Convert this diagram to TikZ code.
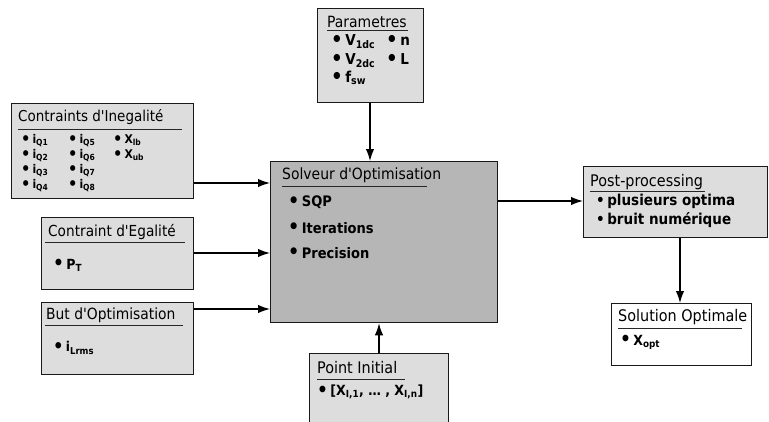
\documentclass[tikz,border=0pt]{standalone}
\usepackage{fontspec}
\usepackage{graphicx}
\setmainfont{DejaVu Sans Condensed}
\usetikzlibrary{arrows.meta}
\definecolor{boxgray}{RGB}{221,221,221}
\definecolor{solvgray}{RGB}{182,182,182}
\newcommand\sbs[1]{\textsubscript{#1}}
\newcommand\sbl[1]{\raisebox{-0.17em}{\fontsize{0.7em}{0.7em}\selectfont #1}}
\newcommand\fsz[1]{\fontsize{#1}{#1}\selectfont}
\newcommand\apo{\textquotesingle}
\newcommand\bul{\raisebox{-0.12ex}{\scalebox{1.35}{\textbullet}}}
\tikzset{
  box/.style={draw=black!90, line width=1.3pt, fill=boxgray, inner sep=0pt, anchor=north west},
  ttl/.style={anchor=west, inner sep=0pt},
  itm/.style={anchor=west, inner sep=0pt, font=\bfseries},
  tight/.style={text height=8pt, text depth=3pt},
  uline/.style={line width=0.9pt, draw=black!85},
  arr/.style={line width=1.3pt, -{Latex[length=12pt,width=8.5pt]}}
}
\begin{document}
\begin{tikzpicture}[x=1pt,y=-1pt]
\useasboundingbox[fill=white] (0,0) rectangle (769,421);
% boxes
\node[box, minimum width=106pt, minimum height=94pt] (par) at (317,8) {};
\node[box, minimum width=182pt, minimum height=95pt] (cont) at (11,103) {};
\node[box, minimum width=152pt, minimum height=72pt] (egal) at (41,217) {};
\node[box, minimum width=152pt, minimum height=72pt] (but) at (41,302) {};
\node[box, fill=solvgray, minimum width=227pt, minimum height=161pt] (solv) at (270,161) {};
\node[box, minimum width=184pt, minimum height=71pt] (post) at (583,166) {};
\node[box, fill=white, minimum width=140pt, minimum height=62pt] (sol) at (611,303) {};
\node[box, minimum width=139pt, minimum height=70pt] (init) at (309,353) {};
% Parametres
\node[ttl, font=\fsz{15.5}] (parT) at (327,22) {Parametres};
\draw[uline] (327,30) -- (408,30);
\node[itm, tight, font=\fsz{15}\bfseries] (p1) at (331,43) {\bul\,V\sbs{1dc}};
\node[itm, tight, font=\fsz{15}\bfseries] (p2) at (331,62) {\bul\,V\sbs{2dc}};
\node[itm, tight, font=\fsz{15}\bfseries] (p3) at (331,80) {\bul\,f\sbs{sw}};
\node[itm, tight, font=\fsz{15}\bfseries] (p4) at (386,43) {\bul\,n};
\node[itm, tight, font=\fsz{15}\bfseries] (p5) at (386,62) {\bul\,L};
% Contraints
\node[ttl, font=\fsz{15}] (contT) at (18,117) {Contraints d\apo Inegalité};
\draw[uline] (18,129) -- (182,129);
\foreach \n/\x/\y/\t in {c1/21/141/i\sbl{Q1}, c2/21/156/i\sbl{Q2}, c3/21/171/i\sbl{Q3}, c4/21/186/i\sbl{Q4},
  c5/68/141/i\sbl{Q5}, c6/68/156/i\sbl{Q6}, c7/68/171/i\sbl{Q7}, c8/68/186/i\sbl{Q8},
  c9/113/141/X\sbl{lb}, c10/113/156/X\sbl{ub}}
  \node[itm, tight, font=\fsz{12}\bfseries] (\n) at (\x,\y) {\bul\,\t};
% Egalite
\node[ttl, font=\fsz{15.2}] (egalT) at (48,232) {Contraint d\apo Egalité};
\draw[uline] (45,242) -- (185,242);
\node[itm, font=\fsz{14}\bfseries] (e1) at (53,265) {\bul\,P\sbs{T}};
% But
\node[ttl, font=\fsz{15.4}] (butT) at (46,315) {But d\apo Optimisation};
\draw[uline] (45,325) -- (183,325);
\node[itm, font=\fsz{13.5}\bfseries] (b1) at (53,348) {\bul\,i\sbs{Lrms}};
% Solveur
\node[ttl, font=\fsz{15.5}] (solvT) at (282,175) {Solveur d\apo Optimisation};
\draw[uline] (282,186) -- (427,186);
\node[itm, font=\fsz{14.5}\bfseries] (s1) at (288,202) {\bul\,SQP};
\node[itm, font=\fsz{14.5}\bfseries] (s2) at (288,228) {\bul\,Iterations};
\node[itm, font=\fsz{14.5}\bfseries] (s3) at (288,253) {\bul\,Precision};
% Post
\node[ttl, font=\fsz{16}] (postT) at (590,182) {Post-processing};
\draw[uline] (590,191) -- (705,191);
\node[itm, tight, font=\fsz{15}\bfseries] (q1) at (596,203) {\textbullet\,plusieurs optima};
\node[itm, tight, font=\fsz{15}\bfseries] (q2) at (596,222) {\textbullet\,bruit numérique};
% Solution
\node[ttl, font=\fsz{16}] (solT) at (618,317) {Solution Optimale};
\draw[uline] (618,328) -- (742,328);
\node[itm, font=\fsz{14}\bfseries] (o1) at (620,342) {\bul\,X\sbs{opt}};
% Point initial
\node[ttl, font=\fsz{16}] (initT) at (317,368) {Point Initial};
\draw[uline] (317,379) -- (405,379);
\node[itm, font=\fsz{14}\bfseries] (i1) at (317,392) {\bul\,[X\sbs{I,1}, \dots\ , X\sbs{I,n}]};
% connectors
\draw[arr] (par.south -| 370,0) -- (solv.north -| 370,0);
\draw[arr] (cont.east |- 0,183) -- (solv.west |- 0,183);
\draw[arr] (egal.east |- 0,253) -- (solv.west |- 0,253);
\draw[arr] (but.east |- 0,309) -- (solv.west |- 0,309);
\draw[arr] (solv.east |- 0,201) -- (post.west |- 0,201);
\draw[arr] (post.south -| 680,0) -- (sol.north -| 680,0);
\draw[arr] (init.north -| 379,0) -- (solv.south -| 379,0);
\end{tikzpicture}
\end{document}
